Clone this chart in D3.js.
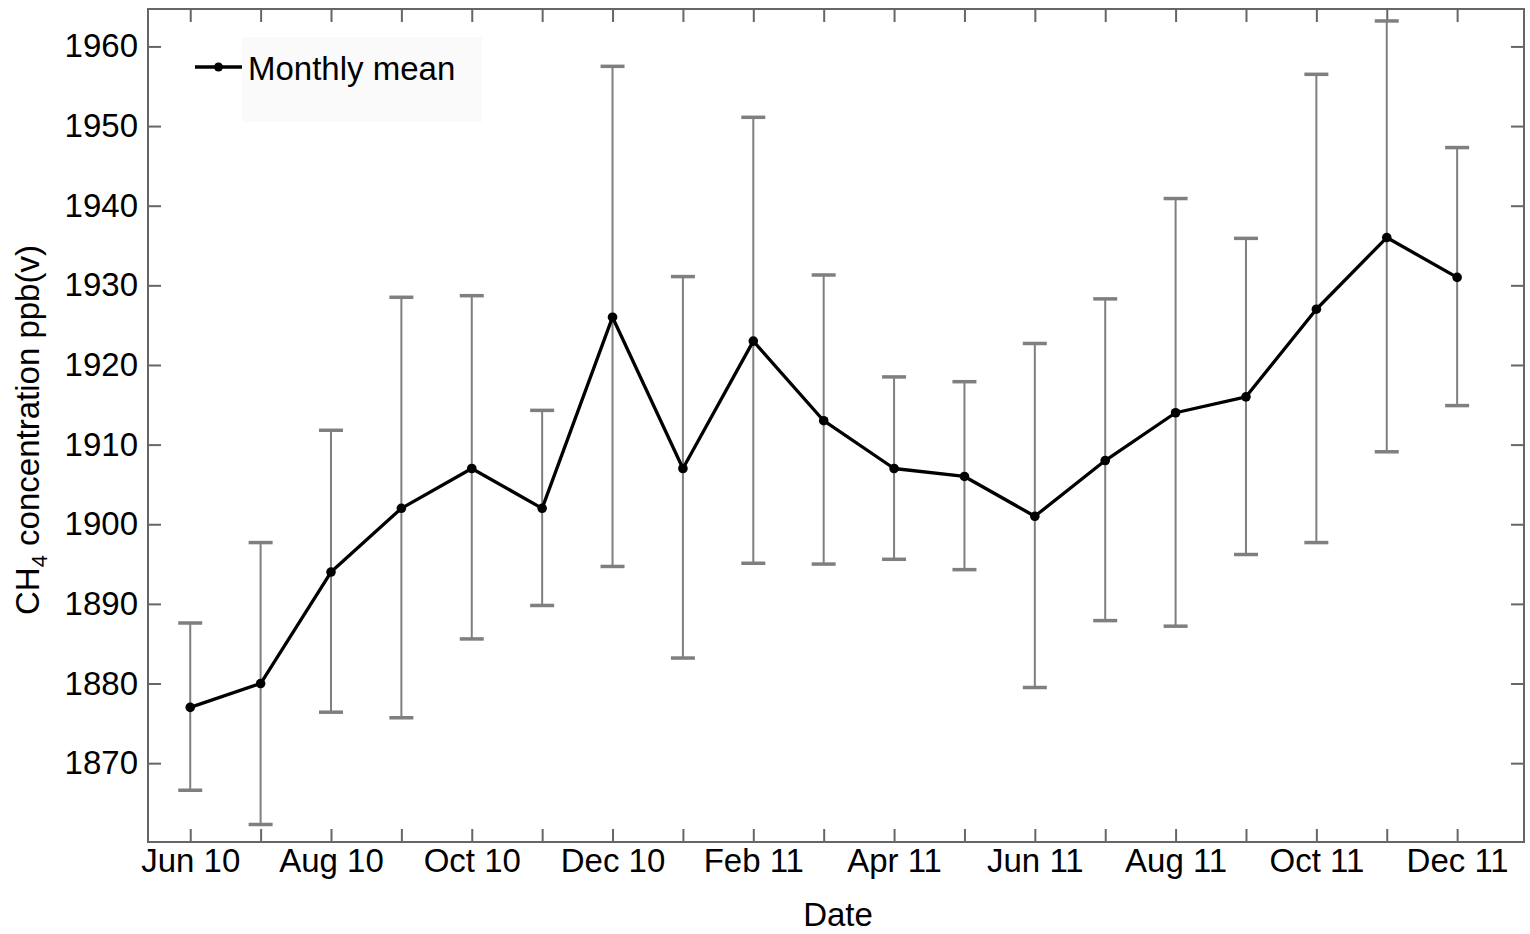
<!DOCTYPE html>
<html><head><meta charset="utf-8">
<script src="https://cdn.jsdelivr.net/npm/d3@7"></script>
<style>
body{margin:0;background:#fff;}
text{font-family:"Liberation Sans",Arial,Helvetica,sans-serif;}
</style></head>
<body><svg id="c" width="1530" height="934"></svg>
<script>
const months = ["Jun 10","Jul 10","Aug 10","Sep 10","Oct 10","Nov 10","Dec 10","Jan 11","Feb 11","Mar 11","Apr 11","May 11","Jun 11","Jul 11","Aug 11","Sep 11","Oct 11","Nov 11","Dec 11"];
const meanValues = [1877,1880,1894,1902,1907,1902,1926,1907,1923,1913,1907,1906,1901,1908,1914,1916,1927,1936,1931];
const upperValues = [1887.6,1897.7,1911.8,1928.5,1928.7,1914.3,1957.5,1931.1,1951.1,1931.3,1918.5,1917.9,1922.7,1928.3,1940.9,1935.9,1956.5,1963.2,1947.3];
const lowerValues = [1866.6,1862.3,1876.4,1875.7,1885.6,1889.8,1894.7,1883.2,1895.1,1895.0,1895.6,1894.3,1879.5,1887.9,1887.2,1896.2,1897.7,1909.1,1914.9];
const yTicks = [1870,1880,1890,1900,1910,1920,1930,1940,1950,1960];
const xLabelEvery = 2;

const svg = d3.select("#c");
const L=148, R=1524, T=9, B=842;
const x = d3.scaleLinear().domain([-0.6, 18.95]).range([L, R]);
const y = d3.scaleLinear().domain([1860.1, 1964.7]).range([B, T]);
const idx = months.map((d,i)=>i);
const axisColor = "#666";
const FS = 33;

// frame
svg.append("rect").attr("x",L).attr("y",T).attr("width",R-L).attr("height",B-T)
  .attr("fill","none").attr("stroke",axisColor).attr("stroke-width",2);

// x ticks (inward, bottom and top)
const gx = svg.append("g").attr("transform",`translate(0,${B})`)
  .call(d3.axisBottom(x).tickValues(idx).tickSize(-13).tickPadding(20)
    .tickFormat(i => i % xLabelEvery === 0 ? months[i] : ""));
gx.select(".domain").remove();
gx.selectAll("line").attr("stroke",axisColor).attr("stroke-width",2);
gx.selectAll("text").attr("font-size",FS).attr("fill","#000").attr("dy","0.71em").attr("y",7);

const gxt = svg.append("g").attr("transform",`translate(0,${T})`)
  .call(d3.axisTop(x).tickValues(idx).tickSize(-13).tickFormat(""));
gxt.select(".domain").remove();
gxt.selectAll("line").attr("stroke",axisColor).attr("stroke-width",2);

// y ticks
const gy = svg.append("g").attr("transform",`translate(${L},0)`)
  .call(d3.axisLeft(y).tickValues(yTicks).tickSize(-13).tickPadding(10).tickFormat(d3.format("d")));
gy.select(".domain").remove();
gy.selectAll("line").attr("stroke",axisColor).attr("stroke-width",2);
gy.selectAll("text").attr("font-size",FS).attr("fill","#000");

const gyr = svg.append("g").attr("transform",`translate(${R},0)`)
  .call(d3.axisRight(y).tickValues(yTicks).tickSize(-13).tickFormat(""));
gyr.select(".domain").remove();
gyr.selectAll("line").attr("stroke",axisColor).attr("stroke-width",2);

// error bars
const eb = svg.append("g");
const errColor = "#7f7f7f";
idx.forEach(i=>{
  const cx = x(i);
  eb.append("line").attr("x1",cx).attr("x2",cx).attr("y1",y(lowerValues[i])).attr("y2",y(upperValues[i]))
    .attr("stroke",errColor).attr("stroke-width",2);
  [upperValues[i], lowerValues[i]].forEach(v=>{
    eb.append("line").attr("x1",cx-12).attr("x2",cx+12).attr("y1",y(v)).attr("y2",y(v))
      .attr("stroke",errColor).attr("stroke-width",3.5);
  });
});

// mean line
const line = d3.line().x(i=>x(i)).y(i=>y(meanValues[i]));
svg.append("path").datum(idx).attr("d",line).attr("fill","none")
  .attr("stroke","#000").attr("stroke-width",3.3).attr("stroke-linejoin","round");
svg.append("g").selectAll("circle").data(idx).join("circle")
  .attr("cx",i=>x(i)).attr("cy",i=>y(meanValues[i])).attr("r",4.8).attr("fill","#000");

// legend
svg.append("rect").attr("x",242).attr("y",37).attr("width",240).attr("height",85).attr("fill","#fafafa");
svg.append("line").attr("x1",195).attr("x2",242).attr("y1",67).attr("y2",67).attr("stroke","#000").attr("stroke-width",3.3);
svg.append("circle").attr("cx",218.5).attr("cy",67).attr("r",4.5).attr("fill","#000");
svg.append("text").attr("x",248).attr("y",80).attr("font-size",FS).attr("fill","#000").text("Monthly mean");

// axis titles
svg.append("text").attr("x",(L+R)/2+2).attr("y",926).attr("text-anchor","middle").attr("font-size",FS).attr("fill","#000").text("Date");
const yl = svg.append("text").attr("transform","translate(39,430) rotate(-90)").attr("text-anchor","middle").attr("font-size",FS).attr("fill","#000");
yl.append("tspan").text("CH");
yl.append("tspan").attr("font-size",22).attr("dy",8).text("4");
yl.append("tspan").attr("dy",-8).text(" concentration ppb(v)");
</script></body></html>
